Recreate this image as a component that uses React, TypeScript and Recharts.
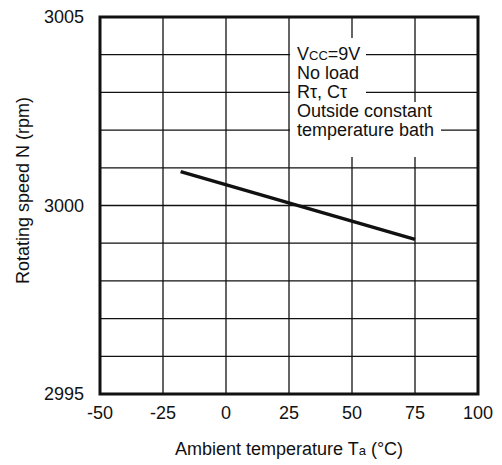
import { LineChart, Line, XAxis, YAxis, CartesianGrid, ReferenceArea, Label } from 'recharts';

// Ambient temperature (°C) vs rotating speed (rpm)
const temperature = [-18, 75];
const speed = [3000.9, 2999.1];

const xTicks = [-50, -25, 0, 25, 50, 75, 100];
const yTicks = [2995, 2996, 2997, 2998, 2999, 3000, 3001, 3002, 3003, 3004, 3005];
const yLabelled = [2995, 3000, 3005];

const FONT = '"Liberation Sans", Arial, Helvetica, sans-serif';

const data = temperature.map((t, i) => ({ t, n: speed[i] }));

function XTitle({ viewBox }: any) {
  const cx = viewBox.x + viewBox.width / 2;
  return (
    <text x={cx} y={455} textAnchor="middle" fontSize={18} fontFamily={FONT} fill="#111">
      Ambient temperature T<tspan fontSize={13}>a</tspan> (°C)
    </text>
  );
}

function YTitle({ viewBox }: any) {
  const cy = viewBox.y + viewBox.height / 2 - 15;
  return (
    <text
      x={29}
      y={cy}
      textAnchor="middle"
      fontSize={18}
      fontFamily={FONT}
      fill="#111"
      transform={`rotate(-90, 29, ${cy})`}
    >
      Rotating speed N (rpm)
    </text>
  );
}

function Conditions() {
  const line = { height: 19, lineHeight: '19px', whiteSpace: 'nowrap' as const };
  return (
    <>
      <div style={{ position: 'absolute', left: 290, top: 38, width: 76, height: 119, background: '#fff' }} />
      <div style={{ position: 'absolute', left: 290, top: 102, width: 151, height: 55, background: '#fff' }} />
      <div
        style={{
          position: 'absolute',
          left: 297,
          top: 45,
          fontFamily: FONT,
          fontSize: 18,
          color: '#111',
        }}
      >
        <div style={line}>
          V<span style={{ fontSize: 13 }}>CC</span>=9V
        </div>
        <div style={line}>No load</div>
        <div style={line}>Rτ, Cτ</div>
        <div style={line}>Outside constant</div>
        <div style={line}>temperature bath</div>
      </div>
    </>
  );
}

export default function App() {
  return (
    <div style={{ position: 'absolute', left: 0, top: 0, width: 502, height: 465, background: '#fff' }}>
      <LineChart
        width={502}
        height={465}
        data={data}
        margin={{ top: 17, right: 24, left: 40, bottom: 41 }}
      >
        <CartesianGrid stroke="#111" strokeWidth={1.3} />
        <XAxis
          dataKey="t"
          type="number"
          domain={[-50, 100]}
          ticks={xTicks}
          height={30}
          tickLine={false}
          axisLine={false}
          tickMargin={6}
          tick={{ fontSize: 18, fontFamily: FONT, fill: '#111' }}
        >
          <Label content={XTitle} />
        </XAxis>
        <YAxis
          type="number"
          domain={[2995, 3005]}
          ticks={yTicks}
          width={60}
          interval={0}
          tickLine={false}
          axisLine={false}
          tickMargin={10}
          tickFormatter={(v: number) => (yLabelled.includes(v) ? String(v) : '')}
          tick={{ fontSize: 18, fontFamily: FONT, fill: '#111' }}
        >
          <Label content={YTitle} />
        </YAxis>
        <ReferenceArea
          x1={-50}
          x2={100}
          y1={2995}
          y2={3005}
          fill="none"
          stroke="#111"
          strokeWidth={3}
          fillOpacity={0}
        />
        <Line
          dataKey="n"
          stroke="#111"
          strokeWidth={3.5}
          dot={false}
          isAnimationActive={false}
        />
      </LineChart>
      <Conditions />
    </div>
  );
}
